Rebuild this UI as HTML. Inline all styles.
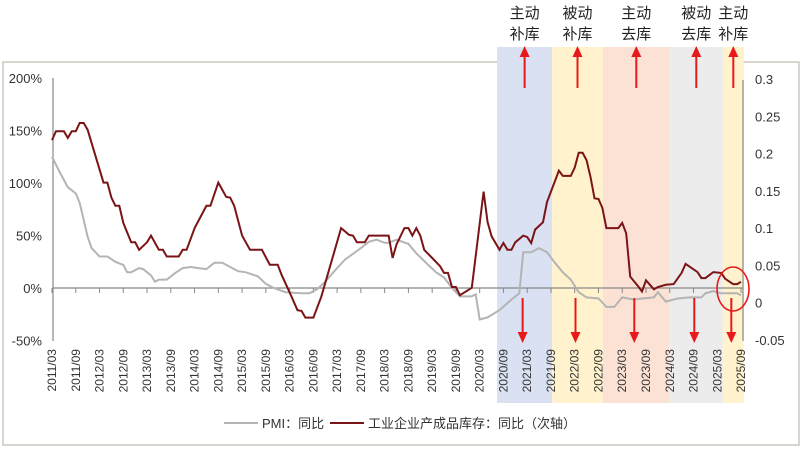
<!DOCTYPE html>
<html><head><meta charset="utf-8"><style>
body{margin:0;background:#fff;}
svg{display:block;font-family:"Liberation Sans","Noto Sans CJK SC",sans-serif;}
</style></head><body>
<svg id="chart" width="805" height="450" viewBox="0 0 805 450" xmlns="http://www.w3.org/2000/svg">
<rect x="3" y="62" width="796" height="383" fill="#fff" stroke="#c9c9bd" stroke-width="1.5"/>
<g id="bands"></g><g id="axes"></g><g id="series"></g><g id="notes"></g>
</svg>
<script>
// ---- data ----
const xTickLabels = ["2011/03","2011/09","2012/03","2012/09","2013/03","2013/09","2014/03","2014/09","2015/03","2015/09","2016/03","2016/09","2017/03","2017/09","2018/03","2018/09","2019/03","2019/09","2020/03","2020/09","2021/03","2021/09","2022/03","2022/09","2023/03","2023/09","2024/03","2024/09","2025/03","2025/09"];
const leftTicks = [-50,0,50,100,150,200];
const rightTicks = [-0.05,0,0.05,0.1,0.15,0.2,0.25,0.3];
const rightTickLabels = ["-0.05","0","0.05","0.1","0.15","0.2","0.25","0.3"];
// months since 2011/03
const pmiMonths = [0,2,4,6,7,9,10,12,14,16,18,19,20,22,23,25,26,27,29,31,33,35,37,39,41,43,45,47,49,52,54,56,59,63,65,67,69,72,74,78,80,82,84,85,87,90,92,95,97,99,101,103,106,107,108,110,113,116,118,119,121,123,125,127,129,131,133,135,138,140,142,144,147,149,152,153,155,158,161,164,165,167,169,173,174];
const pmiValues = [125,110,96,90,81,49,38,30,30,25,22,15,15,19,18,12,6,8,8,14,19,20,19,18,24,24,20,16,15,11,4,0,-4,-5,-5,-1,6,19,27,38,44,46,43,43,46,42,33,22,15,10,0,-8,-8,-6,-30,-28,-21,-11,-5,34,34,38,34,24,15,8,-4,-9,-10,-18,-18,-9,-11,-10,-9,-4,-13,-10,-9,-9,-5,-3,-5,-5,-7];
const invMonths = [0,1,3,4,5,6,7,8,9,13,14,15,16,17,18,20,21,22,24,25,27,28,29,32,33,34,36,39,40,42,44,45,46,48,50,53,55,57,58,60,62,63,64,66,68,73,75,76,77,79,80,85,86,87,89,90,91,92,93,94,96,98,99,100,101,102,103,106,109,110,111,113,114,115,116,117,119,120,121,122,124,125,128,129,131,132,133,134,135,136,137,138,139,140,143,144,145,146,148,149,150,152,153,155,157,159,160,163,164,165,167,169,170,172,173,174];
const invValues = [0.218,0.230,0.230,0.221,0.230,0.230,0.241,0.241,0.232,0.161,0.161,0.141,0.130,0.130,0.107,0.081,0.081,0.071,0.081,0.090,0.071,0.071,0.062,0.062,0.071,0.071,0.100,0.130,0.130,0.161,0.142,0.141,0.130,0.090,0.071,0.071,0.051,0.051,0.037,0.014,-0.010,-0.011,-0.020,-0.020,0.008,0.100,0.091,0.090,0.081,0.081,0.090,0.090,0.060,0.078,0.100,0.100,0.090,0.100,0.090,0.071,0.060,0.049,0.040,0.040,0.021,0.021,0.010,0.020,0.149,0.108,0.089,0.071,0.080,0.071,0.071,0.081,0.090,0.088,0.080,0.098,0.108,0.135,0.177,0.170,0.170,0.181,0.201,0.201,0.191,0.168,0.140,0.139,0.127,0.100,0.100,0.107,0.093,0.035,0.022,0.015,0.030,0.018,0.021,0.024,0.025,0.040,0.052,0.041,0.033,0.033,0.041,0.040,0.032,0.025,0.025,0.028];
const phaseNames = ["主动补库","被动补库","主动去库","被动去库","主动补库"];
const phaseStart = [112.4,126.3,139.1,156,169.4];
const phaseEnd = [126.3,139.1,156,169.4,174.7];
const phaseColors = ["#d9e1f2","#fff2cc","#fbe2d5","#ececec","#fff2cc"];

// ---- scales ----
const X0=52, DX=3.96;
const x = m => X0 + m*DX;
const yL = v => 288 - v*1.05;
const yR = v => 302.7 - v*745.7;
const NS="http://www.w3.org/2000/svg";
function mk(tag, attrs, parent, text){
  const e=document.createElementNS(NS,tag);
  for(const k in attrs) e.setAttribute(k,attrs[k]);
  if(text!==undefined) e.textContent=text;
  parent.appendChild(e); return e;
}
const gB=document.getElementById('bands'), gA=document.getElementById('axes'), gS=document.getElementById('series'), gN=document.getElementById('notes');

phaseNames.forEach((n,i)=>{
  const r=mk('rect',{x:x(phaseStart[i]),y:47,width:x(phaseEnd[i])-x(phaseStart[i]),height:356,fill:phaseColors[i]},gB);
  
  
  const cx=(x(phaseStart[i])+x(phaseEnd[i]))/2;
  const t1=mk('text',{x:cx,y:18,'text-anchor':'middle','font-size':15,fill:'#222'},gN,n.slice(0,2));
  
  
  const t2=mk('text',{x:cx,y:39,'text-anchor':'middle','font-size':15,fill:'#222'},gN,n.slice(2));
  
  
  const up=mk('g',{},gN);
  
  
  mk('line',{x1:cx,y1:88,x2:cx,y2:55,stroke:'#e8191b','stroke-width':2},up);
  mk('polygon',{points:`${cx-5},57 ${cx+5},57 ${cx},46`,fill:'#e8191b'},up);
  const dc=cx-2;
  const dn=mk('g',{},gN);
  
  
  mk('line',{x1:dc,y1:298,x2:dc,y2:334,stroke:'#e8191b','stroke-width':2},dn);
  mk('polygon',{points:`${dc-5},332 ${dc+5},332 ${dc},343`,fill:'#e8191b'},dn);
});

// axes
let l=mk('line',{x1:53,y1:78,x2:53,y2:341,stroke:'#888','stroke-width':1.2},gA);


l=mk('line',{x1:743,y1:80,x2:743,y2:341,stroke:'#888','stroke-width':1.2},gA);


l=mk('line',{x1:53,y1:288,x2:743,y2:288,stroke:'#888','stroke-width':1.2},gA);


leftTicks.forEach(v=>{
  const t=mk('text',{x:42,y:yL(v)+5,'text-anchor':'end','font-size':13,fill:'#333'},gA,v+'%');
  
  
});
rightTicks.forEach((v,i)=>{
  const t=mk('text',{x:755,y:yR(v)+5,'font-size':13,fill:'#333'},gA,rightTickLabels[i]);
  
  
});
xTickLabels.forEach((s,i)=>{
  const px=x(i*6);
  mk('line',{x1:px,y1:288,x2:px,y2:293,stroke:'#888','stroke-width':1},gA);
  const t=mk('text',{x:0,y:0,'text-anchor':'end','font-size':12,fill:'#333',transform:`translate(${px+4},349) rotate(-90)`},gA,s);
  
  
});

// series
const pmiPath=mk('path',{d:pmiMonths.map((m,i)=>(i?'L':'M')+x(m).toFixed(1)+','+yL(pmiValues[i]).toFixed(1)).join(''),fill:'none',stroke:'#b4b4b4','stroke-width':2},gS);


const invPath=mk('path',{d:invMonths.map((m,i)=>(i?'L':'M')+x(m).toFixed(1)+','+yR(invValues[i]).toFixed(1)).join(''),fill:'none',stroke:'#7a1416','stroke-width':2},gS);



const c=mk('ellipse',{cx:733,cy:289,rx:16,ry:22,fill:'none',stroke:'#e8191b','stroke-width':1.6},gN);



// legend
const lg=mk('g',{},gN);


mk('line',{x1:224,y1:423,x2:258,y2:423,stroke:'#b4b4b4','stroke-width':2},lg);
let lt=mk('text',{x:262,y:428,'font-size':13,fill:'#333'},lg,'PMI：同比');


mk('line',{x1:330,y1:423,x2:364,y2:423,stroke:'#7a1416','stroke-width':2},lg);
lt=mk('text',{x:368,y:428,'font-size':13,fill:'#333'},lg,'工业企业产成品库存：同比（次轴）');


</script>
</body></html>
